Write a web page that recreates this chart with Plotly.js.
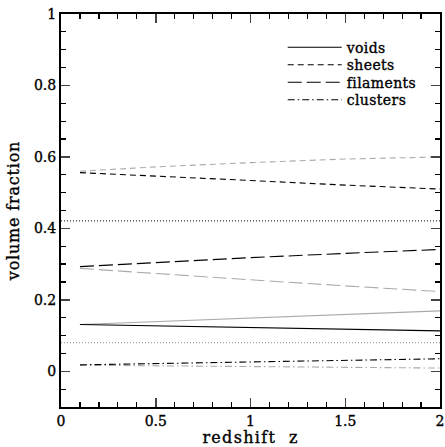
<!DOCTYPE html>
<html><head><meta charset="utf-8">
<script src="https://cdn.plot.ly/plotly-3.0.1.min.js"></script>
<style>
html,body{margin:0;padding:0;background:#fff}
#plot{width:445px;height:447px}
#plot text{stroke:#000;stroke-width:0.35px}
#plot .xtitle{letter-spacing:1.3px}
#plot .ytitle{letter-spacing:0.8px}
#plot .legendtext{letter-spacing:0.4px}
</style>
</head><body><div id="plot"></div>
<script>
var z = [0.1, 0.5, 1.0, 1.5, 2.0];
var voidsA = [0.131, 0.127, 0.122, 0.117, 0.113];
var voidsB = [0.131, 0.139, 0.150, 0.160, 0.169];
var sheetsA = [0.556, 0.547, 0.534, 0.521, 0.510];
var sheetsB = [0.560, 0.572, 0.584, 0.594, 0.600];
var filamentsA = [0.293, 0.305, 0.318, 0.330, 0.341];
var filamentsB = [0.288, 0.273, 0.256, 0.239, 0.223];
var clustersA = [0.018, 0.022, 0.027, 0.031, 0.035];
var clustersB = [0.017, 0.015, 0.013, 0.011, 0.009];
var refX = [0, 2];
var refBlack = [0.421, 0.421];
var refGray = [0.080, 0.080];
var names = ['voids', 'sheets', 'filaments', 'clusters'];
var xTickVals = [0, 0.5, 1, 1.5, 2];
var xTickText = ['0', '0.5', '1', '1.5', '2'];
var yTickVals = [0, 0.2, 0.4, 0.6, 0.8, 1];
var yTickText = ['0', '0.2', '0.4', '0.6', '0.8', '1'];

var black = '#000', gray = '#aaaaaa';
function tr(y, color, dash, name, show) {
  return {x: z, y: y, type: 'scatter', mode: 'lines', name: name, showlegend: show,
    line: {color: color, width: 1.1, dash: dash}, hoverinfo: 'skip'};
}
var data = [
  tr(voidsB, gray, 'solid', '', false),
  tr(sheetsB, gray, '6px,4px', '', false),
  tr(filamentsB, gray, '14px,5px', '', false),
  tr(clustersB, gray, '7px,3px,1.5px,3px', '', false),
  {x: refX, y: refGray, type: 'scatter', mode: 'lines', showlegend: false, line: {color: '#888', width: 1, dash: '1px,2px'}},
  {x: refX, y: refBlack, type: 'scatter', mode: 'lines', showlegend: false, line: {color: '#000', width: 1, dash: '1px,2px'}},
  tr(voidsA, black, 'solid', names[0], true),
  tr(sheetsA, black, '6px,4px', names[1], true),
  tr(filamentsA, black, '14px,5px', names[2], true),
  tr(clustersA, black, '7px,3px,1.5px,3px', names[3], true)
];
var serif = 'DejaVu Serif, serif';
var layout = {
  width: 445, height: 447,
  margin: {l: 61, r: 5, t: 14, b: 40, pad: 0},
  paper_bgcolor: '#fff', plot_bgcolor: '#fff',
  font: {family: serif, color: '#000', size: 14},
  showlegend: true,
  legend: {x: 0.585, y: 0.955, xanchor: 'left', yanchor: 'top', bgcolor: 'rgba(0,0,0,0)',
    font: {family: serif, size: 14, color: '#000'}, tracegroupgap: 0, itemwidth: 54},
  xaxis: {range: [0, 2], tickvals: xTickVals, ticktext: xTickText,
    ticks: 'inside', ticklen: 9, tickwidth: 1.5, mirror: 'allticks', showline: true, linewidth: 2, linecolor: '#000',
    showgrid: false, zeroline: false, tickfont: {size: 14},
    minor: {ticks: 'inside', dtick: 0.1, ticklen: 5, tickwidth: 1.2, tickcolor: '#000', showgrid: false},
    title: {text: 'redshift\u00a0\u00a0z', font: {size: 16}, standoff: 2}},
  yaxis: {range: [-0.1, 1], tickvals: yTickVals, ticktext: yTickText,
    ticks: 'inside', ticklen: 9, tickwidth: 1.5, mirror: 'allticks', showline: true, linewidth: 2, linecolor: '#000',
    showgrid: false, zeroline: false, tickfont: {size: 14},
    minor: {ticks: 'inside', dtick: 0.05, ticklen: 5, tickwidth: 1.2, tickcolor: '#000', showgrid: false},
    title: {text: 'volume fraction', font: {size: 16}, standoff: 10}}
};
Plotly.newPlot('plot', data, layout, {displayModeBar: false, staticPlot: true}).then(function (gd) {
  // tighten legend row spacing to match the reference
  var items = gd.querySelectorAll('.legend .traces');
  var step = 17.5, y0 = null;
  items.forEach(function (el, i) {
    var m = /translate\(([-\d.]+),\s*([-\d.]+)\)/.exec(el.getAttribute('transform') || '');
    if (!m) return;
    if (y0 === null) y0 = parseFloat(m[2]);
    el.setAttribute('transform', 'translate(' + m[1] + ',' + (y0 + i * step) + ')');
  });
});
</script></body></html>
